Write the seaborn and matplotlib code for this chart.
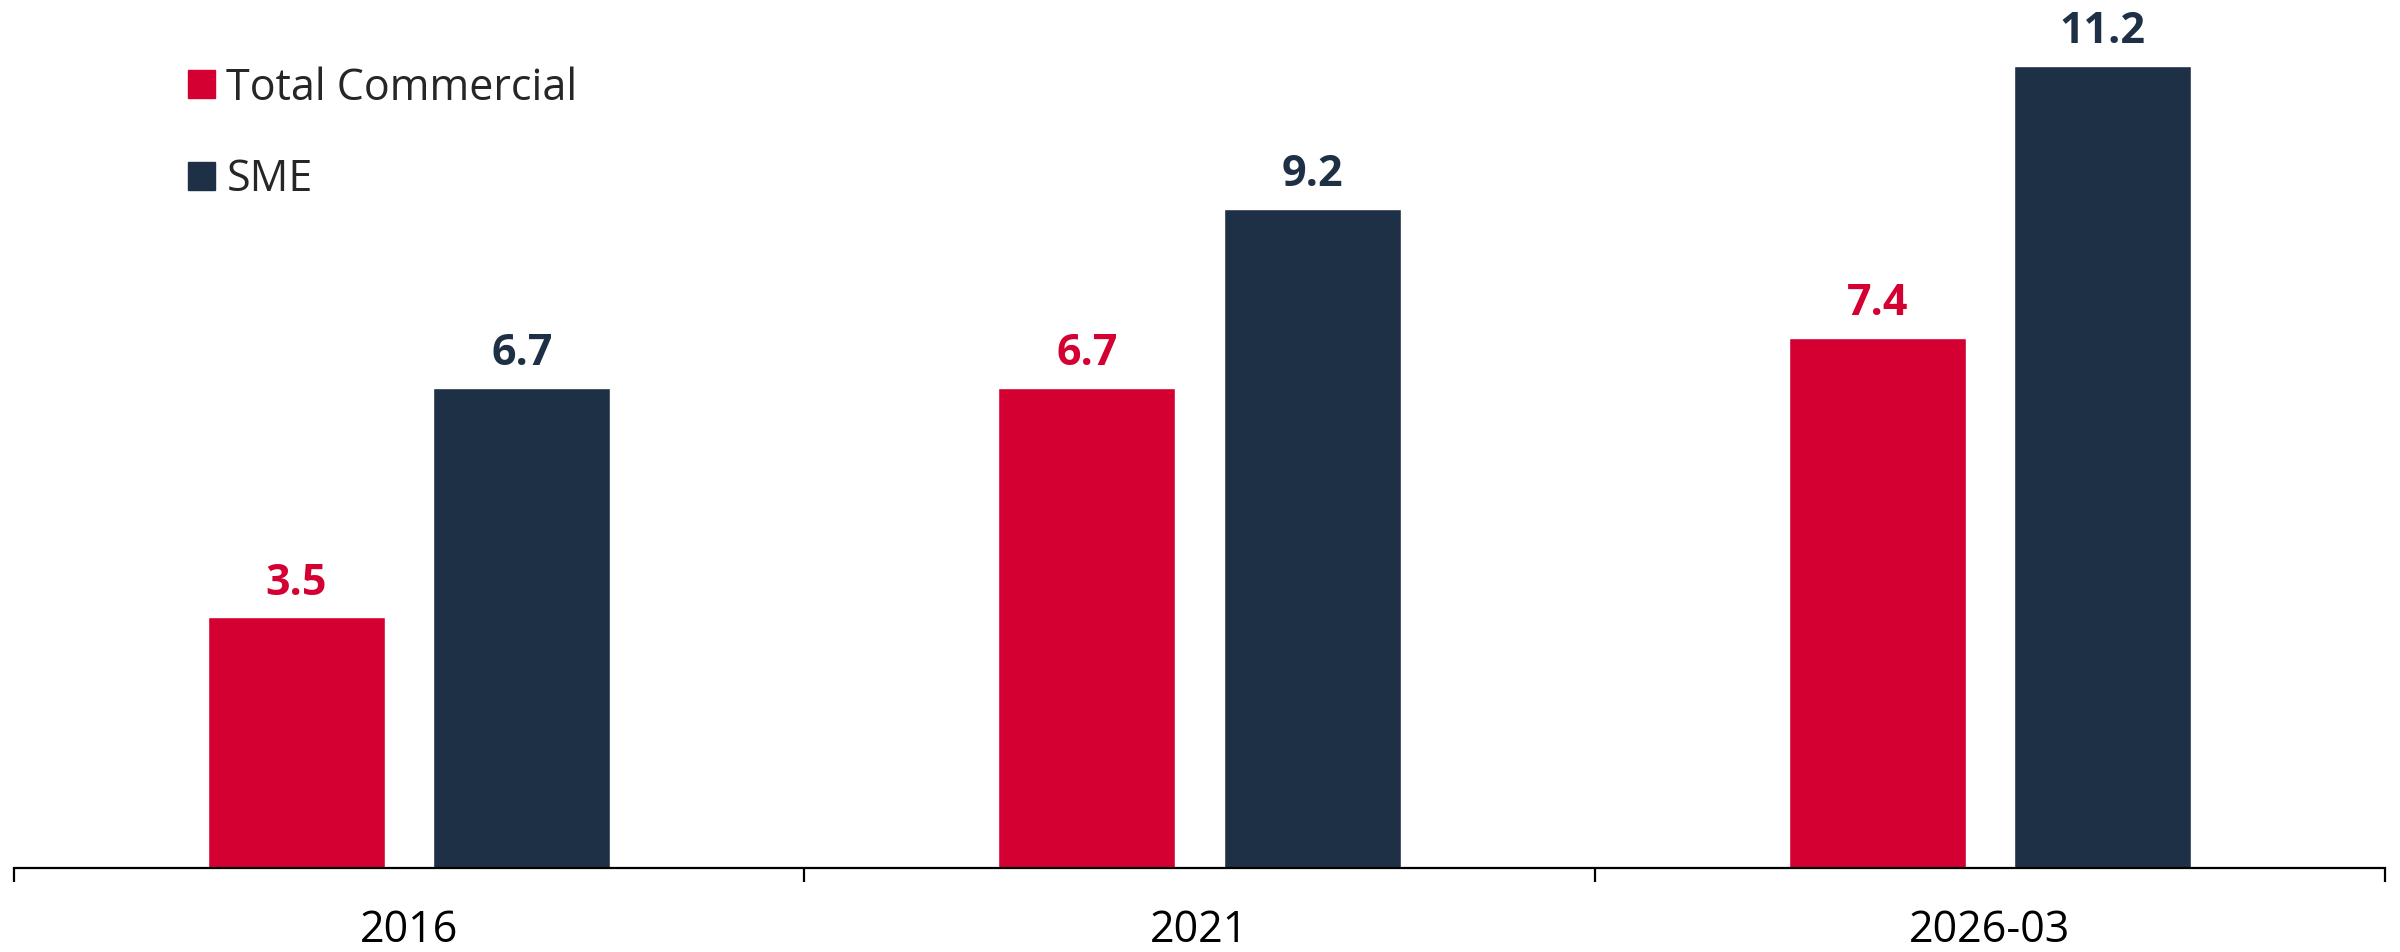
import matplotlib
matplotlib.use("Agg")
import matplotlib.pyplot as plt
import matplotlib.patches as mpatches
import seaborn as sns
import pandas as pd

categories = ["2016", "2021", "2026-03"]
series_names = ["Total Commercial", "SME"]
total_commercial = [3.5, 6.7, 7.4]
sme = [6.7, 9.2, 11.2]
colors = ["#D50032", "#1E3045"]

rows = []
for c, v in zip(categories, total_commercial):
    rows.append({"period": c, "series": series_names[0], "value": v})
for c, v in zip(categories, sme):
    rows.append({"period": c, "series": series_names[1], "value": v})
df = pd.DataFrame(rows)

sns.set_theme(style="white")
plt.rcParams["font.family"] = ["Open Sans", "DejaVu Sans"]

W, H = 2400, 952
fig = plt.figure(figsize=(W / 100, H / 100), dpi=100)
ax_left, ax_right, ax_bottom = 14, 2385, 868
ax = fig.add_axes([ax_left / W, (H - ax_bottom) / H, (ax_right - ax_left) / W, ax_bottom / H])

sns.barplot(data=df, x="period", y="value", hue="series", order=categories,
            hue_order=series_names, palette=colors, width=0.57, gap=0.214,
            saturation=1, errorbar=None, ax=ax, legend=False)

px_per_unit = 71.65
ax.set_ylim(0, ax_bottom / px_per_unit)
ax.set_xlim(-0.5, len(categories) - 0.5)

for container, col in zip(ax.containers, colors):
    ax.bar_label(container, labels=[f"{v:.1f}" for v in container.datavalues],
                 padding=9, color=col, fontsize=31, fontweight="bold")

for s in ["top", "left", "right"]:
    ax.spines[s].set_visible(False)
ax.spines["bottom"].set_color("black")
ax.spines["bottom"].set_linewidth(1.6)
ax.set_yticks([])
ax.set_xlabel("")
ax.set_ylabel("")
ax.set_xticks(range(len(categories)))
ax.set_xticklabels(categories, fontsize=31, color="black")
ax.tick_params(axis="x", which="major", length=0, pad=29)
ax.set_xticks([i - 0.5 for i in range(len(categories) + 1)], minor=True)
ax.tick_params(axis="x", which="minor", length=10, width=1.6, color="black", direction="out", bottom=True)

handles = [mpatches.Patch(color=c, label=n) for c, n in zip(colors, series_names)]
fig.legend(handles=handles, loc="upper left", bbox_to_anchor=(188 / W, 1 - 66 / H),
           frameon=False, fontsize=31, handlelength=0.62, handleheight=0.62,
           handletextpad=0.27, labelspacing=1.1, borderpad=0, borderaxespad=0)

fig.savefig("out.png", dpi=100, facecolor="white")
